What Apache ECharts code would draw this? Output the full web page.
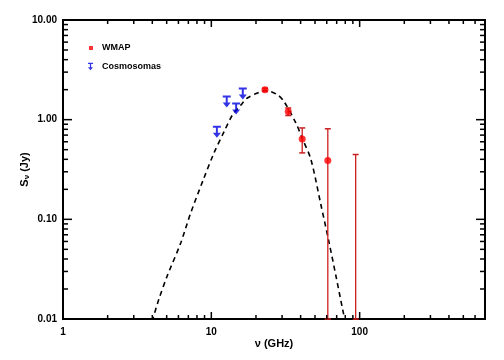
<!DOCTYPE html>
<html>
<head>
<meta charset="utf-8">
<script src="https://cdn.jsdelivr.net/npm/echarts@6/dist/echarts.min.js"></script>
<style>
html, body {margin:0; padding:0; background:#fff;}
#chart {width:504px; height:360px;}
</style>
</head>
<body>
<div id="chart"></div>
<script type="text/javascript">
// axis ranges
var xMin = 1, xMax = 700;
var yMin = 0.01, yMax = 10;

// WMAP points (GHz, Jy) with error bars (lower ends below the plot are held at the axis)
var wmapFreq = [23, 33, 41, 61, 94];
var wmapFlux = [2.0, 1.21, 0.64, 0.39, null];
var wmapLow  = [1.93, 1.10, 0.464, 0.01, 0.01];
var wmapHigh = [2.07, 1.31, 0.826, 0.81, 0.447];

// Cosmosomas upper limits
var cosmoFreq  = [10.9, 12.7, 14.7, 16.3];
var cosmoLimit = [0.87, 1.75, 1.49, 2.1];

// spinning dust model curve
var modelFreq = [3.8, 4.03, 4.43, 5.04, 6.22, 7.25, 8.83, 10.4, 12.2, 13.9, 15.8, 17.5, 20.5, 23.0, 27.9, 30.9, 37.1, 41.2, 46.9, 54.8, 62.3, 69.2, 76.7, 83];
var modelFlux = [0.0078, 0.010, 0.0158, 0.027, 0.058, 0.115, 0.25, 0.46, 0.76, 1.12, 1.40, 1.65, 1.85, 1.97, 1.78, 1.52, 0.93, 0.64, 0.40, 0.14, 0.058, 0.027, 0.0126, 0.0072];

// tick values
var xMajorTicks = [1, 10, 100];
var xMinorTicks = [2, 3, 4, 5, 6, 7, 8, 9, 20, 30, 40, 50, 60, 70, 80, 90, 200, 300, 400, 500, 600, 700];
var yMajorTicks = [0.01, 0.1, 1, 10];
var yMinorTicks = [0.02, 0.03, 0.04, 0.05, 0.06, 0.07, 0.08, 0.09, 0.2, 0.3, 0.4, 0.5, 0.6, 0.7, 0.8, 0.9, 2, 3, 4, 5, 6, 7, 8, 9];

var FONT = '"Liberation Sans", Arial, Helvetica, sans-serif';
var RED = '#ff0000', ERR = '#cc1f1f', BLUE = '#0000e0';
var arrowPath = 'path://M0,0H8V2H0Z M3,2H5V8H3Z M0,7H8L4,12Z';

var modelData = modelFreq.map(function (f, i) { return [f, modelFlux[i]]; });
var wmapData = [];
wmapFreq.forEach(function (f, i) { if (wmapFlux[i] != null) wmapData.push([f, wmapFlux[i]]); });
var errData = wmapFreq.map(function (f, i) { return [f, wmapLow[i], wmapHigh[i]]; });
var cosmoData = cosmoFreq.map(function (f, i) { return [f, cosmoLimit[i]]; });

function seg(x1, y1, x2, y2, color, w) {
    return {type: 'line', shape: {x1: x1, y1: y1, x2: x2, y2: y2}, style: {stroke: color, lineWidth: w}};
}

var myChart = echarts.init(document.getElementById('chart'));
var option = {
    animation: false,
    backgroundColor: '#fff',
    textStyle: {fontFamily: FONT},
    grid: {left: 63, right: 19, top: 20, bottom: 41, show: true, borderColor: '#000', borderWidth: 2},
    legend: [
        {data: ['WMAP'], icon: 'rect', itemWidth: 4, itemHeight: 4, left: 89, top: 43.5, padding: 0,
         textStyle: {fontFamily: FONT, fontSize: 9, fontWeight: 'bold', color: '#000', padding: [0, 0, 0, 4]}},
        {data: [{name: 'Cosmosomas', icon: arrowPath}], itemWidth: 5, itemHeight: 8, left: 88, top: 62, padding: 0,
         textStyle: {fontFamily: FONT, fontSize: 9, fontWeight: 'bold', color: '#000', padding: [0, 0, 4, 4]}}
    ],
    xAxis: {
        type: 'log', logBase: 10, min: xMin, max: xMax,
        name: '\u03bd (GHz)', nameLocation: 'middle', nameGap: 19, nameMoveOverlap: false,
        nameTextStyle: {fontFamily: FONT, fontSize: 11, fontWeight: 'bold', color: '#000'},
        axisLine: {show: false}, axisTick: {show: false}, splitLine: {show: false},
        axisLabel: {
            margin: 8, fontFamily: FONT, fontSize: 10, fontWeight: 'bold', color: '#000',
            formatter: function (v) {
                var l = Math.log(v) / Math.LN10;
                return Math.abs(l - Math.round(l)) < 1e-6 ? String(Math.round(v)) : '';
            }
        }
    },
    yAxis: {
        type: 'log', logBase: 10, min: yMin, max: yMax,
        name: '{s|S}{sub|\u03bd}{s| (Jy)}', nameLocation: 'middle', nameGap: 32, nameMoveOverlap: false,
        nameTextStyle: {
            rich: {
                s: {fontFamily: FONT, fontSize: 11, fontWeight: 'bold', color: '#000'},
                sub: {fontFamily: FONT, fontSize: 8, fontWeight: 'bold', color: '#000', padding: [5, 0, 0, 0]}
            }
        },
        axisLine: {show: false}, axisTick: {show: false}, splitLine: {show: false},
        axisLabel: {
            margin: 6, fontFamily: FONT, fontSize: 10, fontWeight: 'bold', color: '#000',
            formatter: function (v) { return v.toFixed(2); }
        }
    },
    series: [
        {
            name: 'model', type: 'line', data: modelData, smooth: 0.3, symbol: 'none', z: 2,
            lineStyle: {color: '#000', width: 1.6, type: [5, 4]}
        },
        {
            name: 'WMAP errors', type: 'custom', z: 3,
            encode: {x: 0, y: [1, 2]},
            data: errData,
            renderItem: function (params, api) {
                var a = api.coord([api.value(0), api.value(1)]);
                var b = api.coord([api.value(0), api.value(2)]);
                return {type: 'group', children: [
                    seg(a[0], a[1], b[0], b[1], ERR, 1.3),
                    seg(b[0] - 3, b[1], b[0] + 3, b[1], ERR, 1.5),
                    seg(a[0] - 3, a[1], a[0] + 3, a[1], ERR, 1.5)
                ]};
            }
        },
        {
            name: 'WMAP', type: 'scatter', data: wmapData, symbol: 'circle', symbolSize: 7, z: 4,
            itemStyle: {color: RED}
        },
        {
            name: 'Cosmosomas', type: 'scatter', data: cosmoData, symbol: arrowPath,
            symbolSize: [8, 12], symbolOffset: [0, 6], z: 4,
            itemStyle: {color: BLUE}
        }
    ]
};
myChart.setOption(option, true);

// ticks on all four sides, placed through the chart's own scales
function px(x, y) { return myChart.convertToPixel({gridIndex: 0}, [x, y]); }
var ticks = [];
function addX(v, L) {
    var b = px(v, yMin), t = px(v, yMax);
    ticks.push(seg(b[0], b[1], b[0], b[1] - L, '#000', 1.5));
    ticks.push(seg(t[0], t[1], t[0], t[1] + L, '#000', 1.5));
}
function addY(v, L) {
    var l = px(xMin, v), r = px(xMax, v);
    ticks.push(seg(l[0], l[1], l[0] + L, l[1], '#000', 1.5));
    ticks.push(seg(r[0], r[1], r[0] - L, r[1], '#000', 1.5));
}
xMajorTicks.forEach(function (v) { addX(v, 7); });
xMinorTicks.forEach(function (v) { addX(v, 4); });
yMajorTicks.forEach(function (v) { addY(v, 9); });
yMinorTicks.forEach(function (v) { addY(v, 5); });
ticks.forEach(function (g) { g.z = 20; g.silent = true; });
myChart.setOption({graphic: {elements: ticks}});
</script>
</body>
</html>
